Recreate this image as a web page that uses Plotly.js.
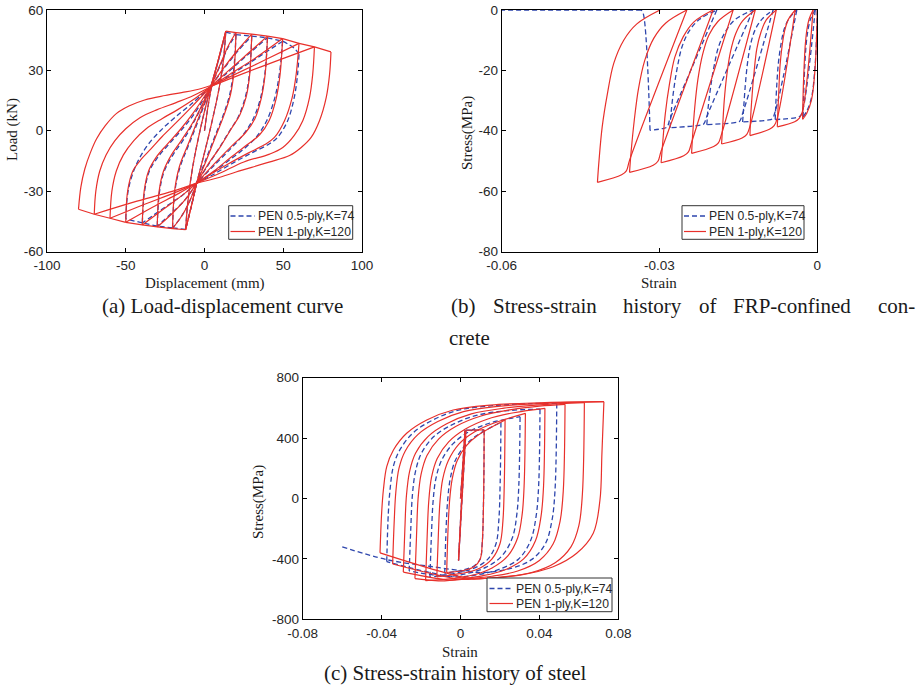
<!DOCTYPE html>
<html><head><meta charset="utf-8">
<script src="https://cdn.plot.ly/plotly-3.0.1.min.js"></script>
<style>html,body{margin:0;padding:0;background:#fff}#chart{width:917px;height:690px}</style>
</head><body><div id="chart"></div>
<script>
// ---------- series names ----------
const seriesNames = ['PEN 0.5-ply,K=74', 'PEN 1-ply,K=120'];

// ---------- tick labels ----------
const aXTicks = [-100, -50, 0, 50, 100];
const aYTicks = [-60, -30, 0, 30, 60];
const bXTicks = [-0.06, -0.03, 0];
const bXTickText = ['-0.06', '-0.03', '0'];
const bYTicks = [-80, -60, -40, -20, 0];
const cXTicks = [-0.08, -0.04, 0, 0.04, 0.08];
const cXTickText = ['-0.08', '-0.04', '0', '0.04', '0.08'];
const cYTicks = [-800, -400, 0, 400, 800];

// Each series is a list of branches of the hysteresis path; every branch
// continues from the last point of the branch before it.

// ---------- (a) load-displacement, [displacement mm, load kN] ----------
const loadDispBlue = [
[[0,0],[4,20],[9,35.5],[13.5,49]],
[[12,35],[9,20],[4,2],[-1,-14],[-5,-26]],
[[-8.5,-38],[-12,-49]],
[[-10.5,-35],[-7.5,-18],[-2,3],[4,22]],
[[9,35.5],[13.5,49]],
[[20,47.8]],
[[18.5,30],[16,18],[12,8],[6.5,-3],[0.5,-15],[-5,-26]],
[[-8.5,-38],[-12,-49]],
[[-20.3,-48.3]],
[[-18.8,-30],[-15.5,-18],[-9.5,-6],[-2.5,8],[4,22]],
[[10,32.5],[15,41.5],[20,47.8]],
[[30,47]],
[[28.5,28],[26,17],[21.5,7],[16,0],[9,-9],[1.5,-18],[-5,-26]],
[[-10,-36],[-15,-43],[-20.3,-48.3]],
[[-30,-47.4]],
[[-28.5,-30],[-25.5,-20],[-20,-12],[-13,-4],[-5,7],[4,22]],
[[12,30.5],[21,39.5],[30,47]],
[[40,46.2]],
[[38.3,28],[35.5,16],[31,6],[24.5,-2],[16.5,-9],[7,-16.5],[-5,-26]],
[[-12,-34],[-21,-41],[-30,-47.4]],
[[-39.5,-45.8]],
[[-38,-30],[-35,-20],[-30,-13.5],[-23,-7],[-15,0],[-6,9],[4,22]],
[[14,28.5],[27,37.5],[40,46.2]],
[[49.6,44.5]],
[[47.5,28],[44.5,16],[39.5,5],[33,-3],[25,-9],[15,-15],[5,-21],[-5,-26]],
[[-14,-32],[-27,-39],[-39.5,-45.8]],
[[-50,-43.8]],
[[-48.5,-30],[-45,-20],[-40.5,-12.5],[-35,-6],[-28,0],[-19,6.5],[-8,13.5],[4,22]],
[[16,27.5],[33,36],[49.6,44.5]],
[[57,41],[60,38]],
[[59.1,28],[57,16.6],[52.8,5],[46.4,-3.3],[41,-6.6],[30,-11],[17,-16.5],[5,-22],[-5,-26]]
];
const loadDispRed = [
[[0,0],[4,20],[9,36],[13.5,49.5]],
[[12,35],[9,20],[4,2],[-1,-14],[-5,-26]],
[[-8.5,-38],[-12,-49.2]],
[[-10.5,-35],[-7.5,-18],[-2,3],[4,22]],
[[9,36],[13.5,49.5]],
[[20,48.8]],
[[18.8,30],[16.5,18],[12.5,8],[7,-3],[1,-15],[-5,-26]],
[[-8.5,-38],[-12,-49.2]],
[[-20.3,-48.6]],
[[-19,-30],[-16,-18],[-10,-6],[-3,8],[4,22]],
[[10,33],[15,42],[20,48.8]],
[[30,48]],
[[28.7,28],[26.5,17],[22.5,8],[17,1],[10,-8],[2,-17],[-5,-26]],
[[-10,-36],[-15,-43],[-20.3,-48.6]],
[[-30,-47.8]],
[[-28.8,-30],[-26,-20],[-21,-12],[-14,-4],[-6,6],[4,22]],
[[12,31],[21,40],[30,48]],
[[40,47]],
[[38.5,28],[36,16],[32,6],[26,-1],[18,-7],[8,-15],[-5,-26]],
[[-12,-34],[-21,-41.5],[-30,-47.8]],
[[-39.5,-46.8]],
[[-38.3,-30],[-35.5,-20],[-30.5,-13],[-24,-7],[-16,0],[-7,9],[4,22]],
[[14,29],[27,38],[40,47]],
[[49.6,45.8]],
[[48,28],[45.5,16],[41,5],[35,-2],[27,-7],[17,-13],[6,-20],[-5,-26]],
[[-14,-32],[-27,-39.5],[-39.5,-46.8]],
[[-50,-45.5]],
[[-48.8,-30],[-45.5,-20],[-40,-14],[-34,-9],[-27,-3],[-18,4],[-8,12],[4,22]],
[[16,28],[33,36.5],[49.6,45.8]],
[[60,43.4]],
[[58.2,28],[55.7,16.6],[50.8,5],[44.4,-3.3],[38,-7],[28,-11],[15,-16.5],[3,-22],[-5,-26]],
[[-16,-31],[-33,-38],[-50,-45.5]],
[[-60,-43.5]],
[[-58.8,-30],[-56,-20],[-51.5,-12],[-45,-5],[-37,1],[-27,6],[-17,10.5],[-7,15.5],[4,22]],
[[18,27.5],[38,35],[60,43.4]],
[[69.8,41.7]],
[[68.7,28],[66.7,16.6],[62.4,5],[57,-2.3],[49.7,-8.3],[41.3,-11.6],[25,-15.5],[10,-21],[-5,-26]],
[[-18,-30.5],[-38,-36.5],[-60,-43.5]],
[[-70,-41.5]],
[[-69,-30],[-66.5,-20],[-62.5,-12],[-57,-5],[-50,1],[-41,6.5],[-30,10.5],[-18,14],[-7,17.5],[4,22]],
[[20,27],[45,34.5],[69.8,41.7]],
[[80.3,39.2]],
[[79.4,28],[77.3,16.6],[73,5],[67.7,-3.3],[61.4,-8.3],[54,-12.3],[41,-15.6],[20,-20.5],[8,-23.5],[-5,-26]],
[[-20,-30],[-45,-35.5],[-70,-41.5]],
[[-80,-39]],
[[-78.5,-28],[-76,-19],[-72.5,-11],[-68.5,-4],[-63,2.5],[-56,8.5],[-48,12.3],[-38,15.3],[-25,17.5],[-12,19.3],[-2,21],[4,22.5]]
];

// ---------- (b) FRP-confined concrete, [strain, stress MPa] ----------
const concreteBlue = [
[[0,0],[-0.0004,-18],[-0.0011,-29],[-0.002,-33.5],[-0.0027,-35.4]],
[[-0.00264,-30.9],[-0.00252,-24.1],[-0.00234,-17.2],[-0.0021,-11.0],[-0.00173,-6.2],[-0.00125,-2.8],[-0.0004,0]],
[[-0.0027,-32.7],[-0.0033,-35.2],[-0.0042,-35.7],[-0.008,-36.3]],
[[-0.0079,-31.7],[-0.0077,-24.7],[-0.0074,-17.6],[-0.0069,-11.3],[-0.0063,-6.4],[-0.0054,-2.9],[-0.0039,0]],
[[-0.008,-33.6],[-0.0086,-36.1],[-0.0095,-36.5],[-0.0142,-37.1]],
[[-0.0140,-32.4],[-0.0137,-25.2],[-0.0133,-18.0],[-0.0127,-11.5],[-0.0118,-6.5],[-0.0105,-3.0],[-0.0084,0]],
[[-0.0142,-34.3],[-0.0148,-36.9],[-0.0157,-37.3],[-0.021,-38.0]],
[[-0.0208,-33.2],[-0.0203,-25.8],[-0.0196,-18.4],[-0.0187,-11.8],[-0.0173,-6.7],[-0.0155,-3.0],[-0.0122,0]],
[[-0.021,-35.2],[-0.0216,-37.8],[-0.0225,-38.2],[-0.028,-39.0]],
[[-0.0278,-34.1],[-0.0273,-26.5],[-0.0266,-18.9],[-0.0257,-12.1],[-0.0243,-6.8],[-0.0224,-3.1],[-0.0191,0]],
[[-0.028,-36.1],[-0.0286,-38.8],[-0.0295,-39.3],[-0.0318,-39.9]],
[[-0.0331,-1.1],[-0.0335,0]],
[[-0.06,0]]
];
const concreteRed = [
[[0,0],[-0.0004,-18.8],[-0.0011,-29.8],[-0.002,-34.2],[-0.0028,-36.2]],
[[-0.00275,-31.6],[-0.00264,-24.6],[-0.00248,-17.6],[-0.00227,-11.2],[-0.00196,-6.3],[-0.00154,-2.9],[-0.0008,0]],
[[-0.0028,-33.5],[-0.0034,-35.8],[-0.0043,-37.0],[-0.0076,-38.7]],
[[-0.0075,-33.8],[-0.0073,-26.3],[-0.0071,-18.8],[-0.0067,-12.0],[-0.0062,-6.8],[-0.0055,-3.1],[-0.0042,0]],
[[-0.0076,-35.8],[-0.0082,-38.3],[-0.0091,-39.5],[-0.0128,-41.6]],
[[-0.0127,-36.4],[-0.0124,-28.3],[-0.0120,-20.2],[-0.0115,-12.9],[-0.0107,-7.3],[-0.0097,-3.3],[-0.0078,0]],
[[-0.0128,-38.5],[-0.0134,-41.2],[-0.0143,-42.4],[-0.0182,-44.4]],
[[-0.0180,-38.8],[-0.0177,-30.2],[-0.0172,-21.5],[-0.0165,-13.8],[-0.0155,-7.8],[-0.0142,-3.6],[-0.0118,0]],
[[-0.0182,-41.1],[-0.0188,-44.0],[-0.0197,-45.2],[-0.0239,-47.5]],
[[-0.0237,-41.5],[-0.0233,-32.3],[-0.0227,-23.0],[-0.0218,-14.7],[-0.0206,-8.3],[-0.0189,-3.8],[-0.016,0]],
[[-0.0239,-43.9],[-0.0245,-47.0],[-0.0254,-48.3],[-0.0297,-50.6]],
[[-0.0294,-44.2],[-0.0289,-34.4],[-0.0281,-24.5],[-0.0271,-15.7],[-0.0255,-8.9],[-0.0235,-4.0],[-0.0198,0]],
[[-0.0297,-46.8],[-0.0303,-50.1],[-0.0312,-51.4],[-0.0357,-53.8]],
[[-0.0354,-47.0],[-0.0348,-36.6],[-0.0340,-26.1],[-0.0328,-16.7],[-0.0311,-9.4],[-0.0288,-4.3],[-0.0248,0]],
[[-0.0357,-49.8],[-0.0363,-53.3],[-0.0372,-54.6],[-0.0418,-57.1]],
[[-0.0415,-49.9],[-0.0409,-38.8],[-0.0399,-27.7],[-0.0387,-17.7],[-0.0368,-10.0],[-0.0343,-4.6],[-0.0299,0]]
];

// ---------- (c) steel, [strain, stress MPa] ----------
const steelBlue = [
[[0,0],[0.0023,450]],
[[-0.001,-410]],
[[0.0028,452]],
[[0.012,454]],
[[0.0117,0],[0.0110,-300],[0.0100,-400],[0.007,-445],[0.001,-475],[-0.008,-495]],
[[-0.0073,-200],[-0.0065,-10],[-0.0052,130],[-0.0027,250],[0.002,345],[0.008,415],[0.0205,505]],
[[0.0201,100],[0.0194,-150],[0.018,-300],[0.014,-400],[0.008,-455],[0.001,-485],[-0.007,-505],[-0.0155,-520]],
[[-0.0147,-230],[-0.0139,-20],[-0.0125,130],[-0.0097,250],[-0.004,360],[0.004,440],[0.015,500],[0.0302,542]],
[[0.0296,100],[0.0286,-100],[0.0263,-260],[0.021,-380],[0.013,-455],[0.004,-495],[-0.006,-515],[-0.026,-480]],
[[-0.0252,-200],[-0.0244,20],[-0.0228,180],[-0.0198,300],[-0.0135,410],[-0.004,490],[0.008,550],[0.024,582],[0.0403,592]],
[[0.0396,80],[0.0383,-120],[0.0355,-280],[0.0295,-400],[0.0195,-470],[0.0085,-505],[-0.003,-518],[-0.0374,-418]],
[[-0.0366,-100],[-0.0357,60],[-0.034,215],[-0.0306,325],[-0.024,435],[-0.014,520],[-0.001,585],[0.017,615],[0.035,628],[0.0488,630]],
[[0.0479,50],[0.0463,-150],[0.043,-300],[0.036,-405],[0.025,-465],[0.012,-490],[0.005,-485],[-0.014,-452],[-0.0374,-405],[-0.0602,-319]]
];
const steelRed = [
[[0,0],[0.0023,450]],
[[-0.001,-410]],
[[0.0028,452]],
[[0.012,454]],
[[0.0117,0],[0.0110,-300],[0.0100,-400],[0.007,-450],[0.002,-475],[-0.003,-485],[-0.007,-490]],
[[-0.0063,-200],[-0.0055,-10],[-0.0042,130],[-0.0017,250],[0.003,350],[0.009,420],[0.0226,520]],
[[0.0222,100],[0.0215,-150],[0.020,-300],[0.016,-400],[0.010,-460],[0.003,-490],[-0.004,-505],[-0.012,-520]],
[[-0.0112,-230],[-0.0104,-20],[-0.009,130],[-0.0062,250],[-0.0008,360],[0.007,440],[0.017,500],[0.0329,564]],
[[0.0323,100],[0.0313,-100],[0.029,-260],[0.024,-380],[0.016,-460],[0.007,-505],[-0.003,-528],[-0.0177,-544]],
[[-0.0169,-250],[-0.0161,-20],[-0.0147,140],[-0.0118,265],[-0.006,375],[0.0025,460],[0.0135,525],[0.027,568],[0.0428,597]],
[[0.0421,80],[0.0408,-120],[0.038,-280],[0.032,-400],[0.022,-475],[0.011,-512],[0.0,-532],[-0.008,-545],[-0.0231,-530]],
[[-0.0223,-250],[-0.0215,0],[-0.020,160],[-0.017,285],[-0.011,395],[-0.002,480],[0.010,545],[0.025,587],[0.040,612],[0.053,624]],
[[0.0521,50],[0.0505,-150],[0.047,-300],[0.040,-410],[0.029,-480],[0.016,-515],[0.003,-532],[-0.005,-540],[-0.029,-487]],
[[-0.0282,-200],[-0.0274,20],[-0.0258,180],[-0.0228,300],[-0.0165,410],[-0.007,495],[0.0055,560],[0.022,598],[0.042,622],[0.0628,635]],
[[0.0618,30],[0.060,-180],[0.056,-320],[0.048,-425],[0.036,-490],[0.021,-520],[0.008,-532],[0.0,-535],[-0.0344,-434]],
[[-0.0336,-150],[-0.0328,40],[-0.0312,200],[-0.028,315],[-0.0215,425],[-0.0115,510],[0.0015,575],[0.019,610],[0.042,630],[0.0727,641]],
[[0.0717,300],[0.0707,-10],[0.0673,-230],[0.0589,-363],[0.047,-452],[0.0302,-507],[0.0133,-528],[0.005,-530],[-0.0408,-360]],
[[-0.0400,-100],[-0.0391,56],[-0.0374,211],[-0.034,321],[-0.0273,432],[-0.0171,520],[-0.0037,586],[0.015,619],[0.040,634],[0.0727,641]]
];

// ---------- build ----------
const W = 917, H = 690;
const fx = p => p / W, fy = p => 1 - p / H;
const BLUE = '#2e46ad', RED = '#e8302b';
const BLUE_DASH = '5px,3px';
const SANS = 'Liberation Sans, Arial, sans-serif';
const SERIF = 'Liberation Serif, Times New Roman, serif';

function toXY(branches) {
  const x = [], y = [];
  let last = null;
  branches.forEach((br, i) => {
    if (i > 0) { x.push(null); y.push(null); x.push(last[0]); y.push(last[1]); }
    br.forEach(p => { x.push(p[0]); y.push(p[1]); });
    last = br[br.length - 1];
  });
  return {x, y};
}
function mk(branches, idx, xa, ya) {
  const xy = toXY(branches);
  return {
    x: xy.x, y: xy.y, xaxis: xa, yaxis: ya, type: 'scatter', mode: 'lines',
    connectgaps: false, name: seriesNames[idx], showlegend: false,
    line: idx === 0
      ? {color: BLUE, width: 1.3, dash: BLUE_DASH, shape: 'spline', smoothing: 1, simplify: false}
      : {color: RED, width: 1.2, shape: 'spline', smoothing: 1, simplify: false},
    hoverinfo: 'skip'
  };
}
const data = [
  mk(loadDispBlue, 0, 'x', 'y'), mk(loadDispRed, 1, 'x', 'y'),
  mk(concreteBlue, 0, 'x2', 'y2'), mk(concreteRed, 1, 'x2', 'y2'),
  mk(steelBlue, 0, 'x3', 'y3'), mk(steelRed, 1, 'x3', 'y3')
];

function axis(domain, range, vals, text, anchor, isX) {
  const a = {domain, range, tickvals: vals, anchor, showline: true, linecolor: '#000', linewidth: 1,
    mirror: 'ticks', ticks: 'inside', ticklen: 4, tickcolor: '#000', tickwidth: 1,
    showgrid: false, zeroline: false, fixedrange: true,
    tickfont: {family: SANS, size: 13.5, color: '#262626'}};
  a.ticktext = text ? text : vals.map(v => String(v));
  if (isX) a.ticklabelstandoff = 1;
  return a;
}
function ann(text, x, y, size, opts) {
  return Object.assign({text, x: fx(x), y: fy(y), xref: 'paper', yref: 'paper', showarrow: false,
    xanchor: 'center', yanchor: 'middle', font: {family: SERIF, size, color: '#1a1a1a'}}, opts || {});
}

// legend boxes drawn in pixel positions of the figure
const shapes = [], legendTexts = [];
function legendBox(x0, y0, x1, y1, row1, row2, lx0, lx1, tx) {
  shapes.push({type: 'rect', xref: 'paper', yref: 'paper', x0: fx(x0), x1: fx(x1), y0: fy(y1), y1: fy(y0),
    line: {color: '#333', width: 1}, fillcolor: '#fff', layer: 'above'});
  shapes.push({type: 'line', xref: 'paper', yref: 'paper', x0: fx(lx0), x1: fx(lx1), y0: fy(row1), y1: fy(row1),
    line: {color: BLUE, width: 1.3, dash: BLUE_DASH}, layer: 'above'});
  shapes.push({type: 'line', xref: 'paper', yref: 'paper', x0: fx(lx0), x1: fx(lx1), y0: fy(row2), y1: fy(row2),
    line: {color: RED, width: 1.2}, layer: 'above'});
  [row1, row2].forEach((r, i) => legendTexts.push({text: seriesNames[i], x: fx(tx), y: fy(r), xref: 'paper', yref: 'paper',
    showarrow: false, xanchor: 'left', yanchor: 'middle', font: {family: SANS, size: 12.2, color: '#262626'}}));
}
legendBox(228.7, 205.7, 352.7, 239.3, 216, 231.5, 230.5, 255, 255.5);
legendBox(682, 205.7, 804, 239.3, 216, 231.5, 684, 706, 707);
legendBox(487, 578, 612, 611.7, 588.5, 603.5, 489.5, 513, 513.5);

const layout = {
  width: W, height: H, margin: {l: 0, r: 0, t: 0, b: 0, pad: 0},
  paper_bgcolor: '#fff', plot_bgcolor: '#fff', showlegend: false,
  xaxis: axis([fx(47), fx(362)], [-100, 100], aXTicks, null, 'y', true),
  yaxis: axis([fy(251.5), fy(10)], [-60, 60], aYTicks, null, 'x', false),
  xaxis2: axis([fx(501.7), fx(817.3)], [-0.06, 0], bXTicks, bXTickText, 'y2', true),
  yaxis2: axis([fy(251.5), fy(10)], [-80, 0], bYTicks, null, 'x2', false),
  xaxis3: axis([fx(302.7), fx(618.3)], [-0.08, 0.08], cXTicks, cXTickText, 'y3', true),
  yaxis3: axis([fy(619.3), fy(377.7)], [-800, 800], cYTicks, null, 'x3', false),
  shapes: shapes,
  annotations: [
    ann('Load (kN)', 13, 130, 15, {textangle: -90}),
    ann('Displacement (mm)', 205, 284, 15),
    ann('Stress(MPa)', 467, 133, 15, {textangle: -90}),
    ann('Strain', 659, 283, 15),
    ann('Stress(MPa)', 259, 502, 15, {textangle: -90}),
    ann('Strain', 460, 652, 15),
    ann('(a) Load-displacement curve', 222, 306, 21),
    ann('(b)', 449, 306, 21, {xanchor: 'left'}),
    ann('Stress-strain', 490.5, 306, 21, {xanchor: 'left'}),
    ann('history', 621.3, 306, 21, {xanchor: 'left'}),
    ann('of', 696.6, 306, 21, {xanchor: 'left'}),
    ann('FRP-confined', 731.1, 306, 21, {xanchor: 'left'}),
    ann('con-', 875.9, 306, 21, {xanchor: 'left'}),
    ann('crete', 447, 338, 21, {xanchor: 'left'}),
    ann('(c) Stress-strain history of steel', 455, 673, 21)
  ].concat(legendTexts)
};

Plotly.newPlot('chart', data, layout, {staticPlot: true, displayModeBar: false});
</script>
</body></html>
